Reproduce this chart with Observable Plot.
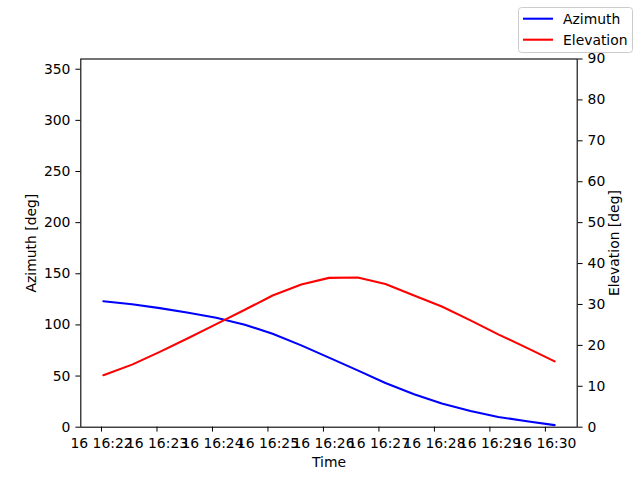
<!DOCTYPE html>
<html><head><meta charset="utf-8">
<script src="https://cdn.jsdelivr.net/npm/d3@7"></script>
<script src="https://cdn.jsdelivr.net/npm/@observablehq/plot@0.6"></script>
<style>
body{margin:0;background:#fff;}
#wrap{position:relative;width:640px;height:480px;font-family:"DejaVu Sans";}
#wrap > svg.chart{position:absolute;left:0;top:0;}
#wrap > svg#legend{position:absolute;left:518px;top:7px;}
</style></head><body><div id="wrap"></div>
<script>
const times = [
  "2024-01-16T16:22:02Z","2024-01-16T16:22:33Z","2024-01-16T16:23:03Z","2024-01-16T16:23:34Z",
  "2024-01-16T16:24:04Z","2024-01-16T16:24:35Z","2024-01-16T16:25:05Z","2024-01-16T16:25:36Z",
  "2024-01-16T16:26:06Z","2024-01-16T16:26:37Z","2024-01-16T16:27:07Z","2024-01-16T16:27:38Z",
  "2024-01-16T16:28:08Z","2024-01-16T16:28:39Z","2024-01-16T16:29:09Z","2024-01-16T16:29:40Z",
  "2024-01-16T16:30:10Z"
];
const azimuth = [123.2, 120.3, 116.4, 111.9, 107.0, 100.2, 91.4, 80.0, 68.0, 55.6, 43.2, 32.2, 23.1, 15.9, 10.0, 5.9, 2.0];
const elevation = [12.7, 15.3, 18.4, 21.8, 25.2, 28.7, 32.2, 34.9, 36.5, 36.6, 35.0, 32.2, 29.5, 26.1, 22.7, 19.4, 16.1];
const timeTicks = [
  "2024-01-16T16:22:00Z","2024-01-16T16:23:00Z","2024-01-16T16:24:00Z","2024-01-16T16:25:00Z",
  "2024-01-16T16:26:00Z","2024-01-16T16:27:00Z","2024-01-16T16:28:00Z","2024-01-16T16:29:00Z",
  "2024-01-16T16:30:00Z"
];
const azimuthTicks = [0, 50, 100, 150, 200, 250, 300, 350];
const elevationTicks = [0, 10, 20, 30, 40, 50, 60, 70, 80, 90];
const azimuthDomain = [0, 360];
const elevationDomain = [0, 90];
const seriesNames = ["Azimuth", "Elevation"];
const seriesColors = ["#0000ff", "#ff0000"];

const rows = times.map((t, i) => ({time: new Date(t), azimuth: azimuth[i], elevation: elevation[i]}));
const t0 = d3.min(rows, d => d.time), t1 = d3.max(rows, d => d.time);
const pad = (t1 - t0) * 0.05;
const xDomain = [new Date(+t0 - pad), new Date(+t1 + pad)];
const xTicks = timeTicks.map(t => new Date(t));

const common = {
  width: 640, height: 480,
  marginLeft: 80.3, marginRight: 63.3, marginTop: 58.5, marginBottom: 53.3,
  className: "chart",
  style: {fontFamily: "DejaVu Sans", fontSize: "13.9px", background: "transparent", color: "black", overflow: "visible"}
};

const p1 = Plot.plot({
  ...common,
  x: {type: "utc", domain: xDomain},
  y: {domain: azimuthDomain},
  marks: [
    Plot.line(rows, {x: "time", y: "azimuth", stroke: seriesColors[0], strokeWidth: 2.08}),
    Plot.axisY({ticks: azimuthTicks, tickSize: 4.9, tickPadding: 5.5, label: "Azimuth [deg]",
      labelAnchor: "center", labelArrow: "none", labelOffset: 55}),
    Plot.axisX({ticks: xTicks, tickFormat: d3.utcFormat("%d %H:%M"), tickSize: 4.9, tickPadding: 6,
      label: "Time", labelAnchor: "center", labelArrow: "none", labelOffset: 40}),
    Plot.frame({stroke: "black", strokeWidth: 1.1})
  ]
});

const p2 = Plot.plot({
  ...common,
  x: {type: "utc", domain: xDomain, axis: null},
  y: {domain: elevationDomain},
  marks: [
    Plot.line(rows, {x: "time", y: "elevation", stroke: seriesColors[1], strokeWidth: 2.08}),
    Plot.axisY({anchor: "right", ticks: elevationTicks, tickSize: 4.9, tickPadding: 5.5, label: "Elevation [deg]",
      labelAnchor: "center", labelArrow: "none", labelOffset: 42})
  ]
});

const wrap = document.getElementById("wrap");
p1.classList.add("chart");
p2.classList.add("chart");
wrap.appendChild(p1);
wrap.appendChild(p2);

// legend
const lg = d3.create("svg").attr("id", "legend").attr("width", 116).attr("height", 47)
  .style("position", "absolute").style("left", "518px").style("top", "7px")
  .style("font-family", "DejaVu Sans").style("font-size", "13.9px");
lg.append("rect").attr("x", 0.5).attr("y", 0.5).attr("width", 114).attr("height", 45).attr("rx", 3)
  .attr("fill", "white").attr("fill-opacity", 0.8).attr("stroke", "#cccccc");
seriesNames.forEach((name, i) => {
  const y = 11.7 + i * 21;
  lg.append("line").attr("x1", 5).attr("x2", 35).attr("y1", y).attr("y2", y)
    .attr("stroke", seriesColors[i]).attr("stroke-width", 2.08);
  lg.append("text").attr("x", 45).attr("y", y + 5).attr("fill", "black").text(name);
});
wrap.appendChild(lg.node());
</script>
</body></html>
